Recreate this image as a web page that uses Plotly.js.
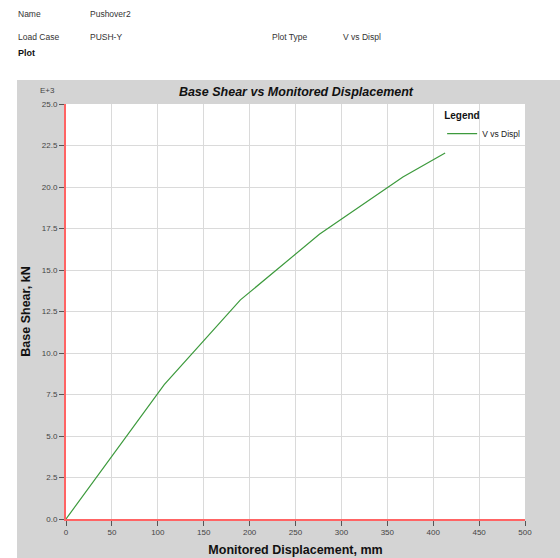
<!DOCTYPE html>
<html>
<head>
<meta charset="utf-8">
<script src="https://cdn.plot.ly/plotly-3.0.1.min.js"></script>
<style>
  html, body { margin: 0; padding: 0; background: #ffffff; width: 560px; height: 558px; overflow: hidden; }
  body { position: relative; font-family: Arial, "Liberation Sans", sans-serif; color: #333; }
  .h { position: absolute; font-size: 8.5px; line-height: 12px; height: 12px; white-space: nowrap; }
  #chart { position: absolute; left: 17px; top: 80px; width: 543px; height: 478px; }
</style>
</head>
<body>
<div class="h" style="left:18px; top:8px;">Name</div>
<div class="h" style="left:90px; top:8px;">Pushover2</div>
<div class="h" style="left:18px; top:31px;">Load Case</div>
<div class="h" style="left:90px; top:31px;">PUSH-Y</div>
<div class="h" style="left:272px; top:31px;">Plot Type</div>
<div class="h" style="left:343px; top:31px;">V vs Displ</div>
<div class="h" style="left:18px; top:47px; font-weight:bold; font-size:9px; color:#111;">Plot</div>
<div id="chart"></div>
<script>
// Monitored displacement (mm)
const displacement = [0, 107, 190, 276, 367, 413];
// Base shear (E+3 kN)
const baseShear = [0, 8.1, 13.2, 17.15, 20.6, 22.05];
const seriesName = "V vs Displ";
const xTicks = [0, 50, 100, 150, 200, 250, 300, 350, 400, 450, 500];
const yTicks = [0, 2.5, 5, 7.5, 10, 12.5, 15, 17.5, 20, 22.5, 25];

const trace = {
  x: displacement,
  y: baseShear,
  type: "scatter",
  mode: "lines",
  name: seriesName,
  line: { color: "#3d9a3d", width: 1.2 }
};

const axisFont = { family: "Arial, 'Liberation Sans', sans-serif", size: 8, color: "#444" };

const layout = {
  width: 543,
  height: 478,
  paper_bgcolor: "#d4d4d4",
  plot_bgcolor: "#ffffff",
  margin: { l: 49, r: 35, t: 24, b: 39 },
  font: { family: "Arial, 'Liberation Sans', sans-serif", color: "#222" },
  title: {
    text: "<b><i>Base Shear vs Monitored Displacement</i></b>",
    font: { size: 12.5, color: "#111" },
    xref: "paper", x: 0.501, xanchor: "center",
    yref: "container", y: 1 - 12 / 478, yanchor: "middle"
  },
  xaxis: {
    range: [0, 500],
    tickvals: xTicks,
    ticktext: xTicks.map(v => String(v)),
    showgrid: true, gridcolor: "#dadada", gridwidth: 1,
    zeroline: false,
    showline: true, linecolor: "#ff6464", linewidth: 1.5,
    ticks: "outside", ticklen: 5, tickcolor: "#555", tickwidth: 1,
    tickfont: axisFont,
    title: { text: "<b>Monitored Displacement, mm</b>", font: { size: 12.5, color: "#111" }, standoff: 9 },
    fixedrange: true
  },
  yaxis: {
    range: [0, 25],
    tickvals: yTicks,
    ticktext: yTicks.map(v => v.toFixed(1)),
    showgrid: true, gridcolor: "#dadada", gridwidth: 1,
    zeroline: false,
    showline: true, linecolor: "#ff6464", linewidth: 2,
    ticks: "outside", ticklen: 5, tickcolor: "#555", tickwidth: 1,
    tickfont: axisFont,
    title: { text: "<b>Base Shear, kN</b>", font: { size: 12.5, color: "#111" }, standoff: 8 },
    fixedrange: true
  },
  showlegend: true,
  legend: {
    x: 0.826 - 3 / 459, xanchor: "left",
    y: 0.995, yanchor: "top",
    bgcolor: "rgba(0,0,0,0)",
    borderwidth: 0,
    font: { size: 8.5, color: "#222" },
    title: { text: "<b>Legend</b>", font: { size: 10, color: "#111" }, side: "top" }
  },
  annotations: [
    {
      text: "E+3", xref: "paper", yref: "paper",
      x: (47 - 66) / 459, y: (519 - 90) / 415,
      xanchor: "center", yanchor: "middle", showarrow: false,
      font: { size: 8, color: "#444" }
    }
  ]
};

Plotly.newPlot("chart", [trace], layout, { displayModeBar: false, staticPlot: true });
</script>
</body>
</html>
